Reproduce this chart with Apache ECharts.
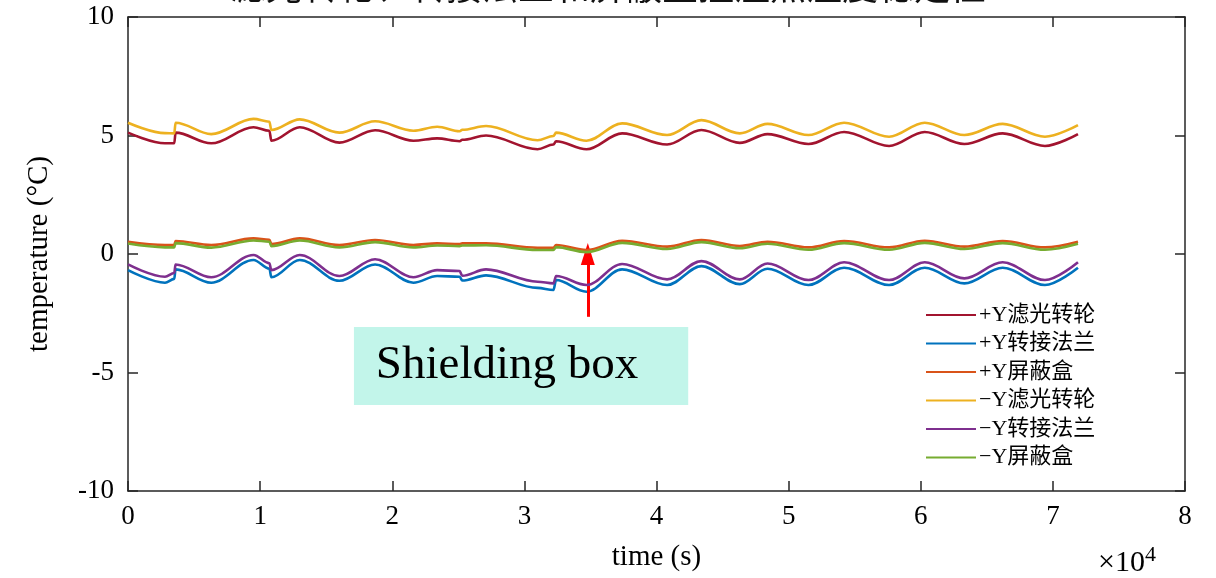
<!DOCTYPE html>
<html>
<head>
<meta charset="utf-8">
<script src="https://cdn.jsdelivr.net/npm/echarts@6/dist/echarts.min.js"></script>
<style>
  html, body { margin: 0; padding: 0; background: #fff; }
  #main { width: 1216px; height: 578px; }
</style>
</head>
<body>
<div id="main"></div>
<script>
// time (s)
var times = [0, 2800, 3500, 3600, 6300, 9500, 10700, 10850, 13000, 16000, 18700, 21600, 23400, 25100, 25300, 27100,
  31000, 32200, 32400, 34700, 37400, 40800, 43400, 46300, 48400, 51500, 54200, 57600, 60300, 63300, 66200, 69400, 71900];

var posFilter = [5.12, 4.67, 4.67, 5.12, 4.67, 5.35, 5.20, 4.78, 5.35, 4.70, 5.22, 4.78, 4.88, 4.76, 4.82, 5.00,
  4.42, 4.62, 4.76, 4.42, 5.09, 4.62, 5.23, 4.69, 5.06, 4.64, 5.15, 4.56, 5.15, 4.64, 5.09, 4.56, 5.06];
var posFlange = [-0.68, -1.21, -1.05, -0.65, -1.21, -0.25, -0.62, -0.98, -0.25, -1.13, -0.44, -1.21, -0.93, -0.96, -1.12, -0.90,
  -1.43, -1.52, -1.10, -1.59, -0.65, -1.31, -0.51, -1.27, -0.62, -1.31, -0.58, -1.31, -0.58, -1.24, -0.58, -1.31, -0.58];
var posShield = [0.52, 0.38, 0.38, 0.55, 0.38, 0.66, 0.60, 0.42, 0.66, 0.38, 0.59, 0.38, 0.45, 0.42, 0.45, 0.45,
  0.26, 0.26, 0.38, 0.17, 0.56, 0.31, 0.59, 0.34, 0.52, 0.28, 0.55, 0.28, 0.56, 0.31, 0.55, 0.28, 0.52];
var negFilter = [5.54, 5.10, 5.09, 5.54, 5.06, 5.70, 5.58, 5.23, 5.68, 5.12, 5.60, 5.20, 5.37, 5.18, 5.24, 5.40,
  4.80, 4.98, 5.12, 4.78, 5.51, 5.02, 5.65, 5.09, 5.49, 5.02, 5.54, 4.95, 5.54, 5.02, 5.49, 4.95, 5.44];
var negFlange = [-0.44, -0.96, -0.80, -0.44, -0.98, -0.04, -0.39, -0.68, -0.04, -0.93, -0.22, -0.98, -0.68, -0.72, -0.92, -0.65,
  -1.17, -1.24, -0.93, -1.31, -0.42, -1.07, -0.30, -1.07, -0.40, -1.10, -0.35, -1.10, -0.35, -1.03, -0.35, -1.10, -0.35];
var negShield = [0.44, 0.28, 0.28, 0.46, 0.27, 0.57, 0.52, 0.33, 0.57, 0.28, 0.50, 0.28, 0.36, 0.33, 0.36, 0.37,
  0.17, 0.17, 0.29, 0.08, 0.47, 0.21, 0.50, 0.24, 0.43, 0.18, 0.46, 0.18, 0.47, 0.21, 0.46, 0.18, 0.43];

var names = ['+Y滤光转轮', '+Y转接法兰', '+Y屏蔽盒', '−Y滤光转轮', '−Y转接法兰', '−Y屏蔽盒'];
var colors = ['#A2142F', '#0072BD', '#D95319', '#EDB120', '#7E2F8E', '#77AC30'];
var xTicks = [0, 1, 2, 3, 4, 5, 6, 7, 8];
var yTicks = [-10, -5, 0, 5, 10];

// arrow and label box (data coordinates)
var arrowX = 34800, arrowFrom = -2.65, arrowTo = 0.0;
var boxX = [17100, 42400], boxY = [-3.08, -6.37];

var serif = '"Liberation Serif", "Times New Roman", serif';
var cjk = '"Liberation Serif", "Noto Sans CJK SC", serif';

function pairs(vals) {
  return times.map(function (t, i) { return [t, vals[i]]; });
}

var chart = echarts.init(document.getElementById('main'));
var allVals = [posFilter, posFlange, posShield, negFilter, negFlange, negShield];

var series = allVals.map(function (v, i) {
  return {
    name: names[i],
    type: 'line',
    data: pairs(v),
    showSymbol: false,
    smooth: 0.35,
    smoothMonotone: 'x',
    lineStyle: { width: 2.6, color: colors[i] },
    itemStyle: { color: colors[i] },
    z: 3 + i
  };
});
// annotation box + arrow on a helper series
series.push({
  type: 'line',
  data: [],
  silent: true,
  markArea: {
    silent: true,
    itemStyle: { color: '#C2F5EA' },
    label: {
      show: true, position: 'inside', color: '#000',
      fontFamily: serif, fontSize: 47, offset: [-14, 0]
    },
    data: [[{ name: 'Shielding box', coord: [boxX[0], boxY[0]] }, { coord: [boxX[1], boxY[1]] }]]
  },
  markLine: {
    silent: true,
    symbol: ['none', 'triangle'],
    symbolSize: [14, 22],
    label: { show: false },
    lineStyle: { color: '#FF0000', width: 3, type: 'solid' },
    data: [[{ coord: [arrowX, arrowFrom] }, { coord: [arrowX, arrowTo] }]]
  }
});

var axisLine = { show: true, onZero: false, lineStyle: { color: '#262626', width: 1.5 } };
var tick = { show: true, inside: true, length: 10, lineStyle: { color: '#262626', width: 1.5 } };

chart.setOption({
  animation: false,
  backgroundColor: '#fff',
  grid: { left: 128, right: 31, top: 17, bottom: 87 },
  legend: {
    data: names,
    orient: 'vertical',
    left: 921,
    top: 299,
    itemWidth: 50,
    itemHeight: 2,
    itemGap: 6.5,
    icon: 'rect',
    textStyle: { fontFamily: cjk, fontSize: 22, color: '#000', padding: [0, 0, 0, -2] }
  },
  xAxis: [{
    type: 'value', min: 0, max: 80000, interval: 10000,
    axisLine: axisLine, axisTick: tick, splitLine: { show: false },
    axisLabel: {
      fontFamily: serif, fontSize: 27, color: '#000', margin: 12,
      formatter: function (v) { return String(xTicks[Math.round(v / 10000)]); }
    },
    name: 'time (s)', nameLocation: 'middle', nameGap: 52,
    nameTextStyle: { fontFamily: serif, fontSize: 29, color: '#000' }
  }, {
    type: 'value', position: 'top', min: 0, max: 80000, interval: 10000,
    axisLine: axisLine, axisTick: tick, axisLabel: { show: false }, splitLine: { show: false }
  }],
  yAxis: [{
    type: 'value', min: yTicks[0], max: yTicks[yTicks.length - 1], interval: 5,
    axisLine: axisLine, axisTick: tick, splitLine: { show: false },
    axisLabel: { fontFamily: serif, fontSize: 27, color: '#000', margin: 14 },
    name: 'temperature (°C)', nameLocation: 'middle', nameGap: 74, nameRotate: 90,
    nameTextStyle: { fontFamily: serif, fontSize: 29, color: '#000' }
  }, {
    type: 'value', position: 'right', min: yTicks[0], max: yTicks[yTicks.length - 1], interval: 5,
    axisLine: axisLine, axisTick: tick, axisLabel: { show: false }, splitLine: { show: false }
  }],
  graphic: [{
    type: 'text', left: 'center', top: -27,
    style: { text: '滤光转轮、转接法兰和屏蔽盒控温点温度稳定性', font: '36px ' + cjk, fill: '#111' }
  }, {
    type: 'text', left: 1098, top: 544,
    style: {
      text: '{a|×10}{b|4}',
      rich: {
        a: { fontFamily: serif, fontSize: 30, color: '#000' },
        b: { fontFamily: serif, fontSize: 22, color: '#000', verticalAlign: 'top', padding: [0, 0, 16, 0] }
      }
    }
  }],
  series: series
});
</script>
</body>
</html>
